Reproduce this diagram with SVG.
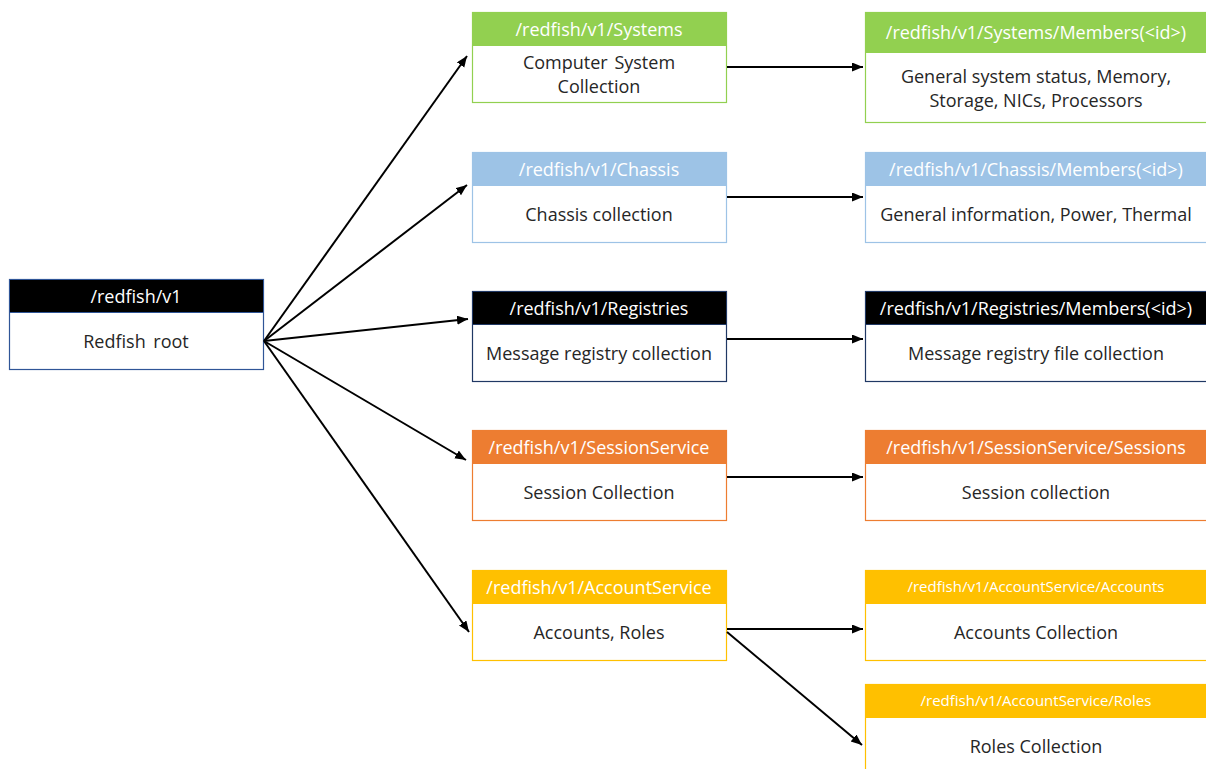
<svg xmlns="http://www.w3.org/2000/svg" width="1206" height="769" viewBox="0 0 1206 769">
<style>
text{font-family:"Open Sans","Noto Sans","Liberation Sans",sans-serif;font-size:18px;text-anchor:middle}
.h{fill:#ffffff}
.b{fill:#262626}
.sm{font-size:15px}
.body{fill:#ffffff;stroke-width:1.2}
.conn line{stroke:#000;stroke-width:2;fill:none}
</style>
<defs>
<marker id="arr" markerUnits="userSpaceOnUse" markerWidth="12" markerHeight="10" refX="11" refY="4.5" orient="auto">
<path d="M0,0 L11,4.5 L0,9 z" fill="#000"/>
</marker>
</defs>
<rect width="1206" height="769" fill="#ffffff"/>

<g id="root">
<rect class="body" x="9.5" y="279.5" width="254" height="90" stroke="#2F5597"/>
<rect x="9.5" y="279.5" width="254" height="33" fill="#000000" stroke="#2F5597"/>
<text class="h" x="136" y="302.5">/redfish/v1</text>
<text class="b" x="136" y="347.5" word-spacing="3">Redfish root</text>
</g>

<g id="systems">
<rect class="body" x="472.5" y="12.5" width="254" height="90" stroke="#92D050"/>
<rect x="472.5" y="12.5" width="254" height="33" fill="#92D050" stroke="#92D050"/>
<text class="h" x="599" y="35.5">/redfish/v1/Systems</text>
<text class="b" x="599" y="68.5" word-spacing="2">Computer System</text>
<text class="b" x="599" y="92.5">Collection</text>
</g>

<g id="chassis">
<rect class="body" x="472.5" y="152.5" width="254" height="90" stroke="#9DC3E6"/>
<rect x="472.5" y="152.5" width="254" height="33" fill="#9DC3E6" stroke="#9DC3E6"/>
<text class="h" x="599" y="175.5">/redfish/v1/Chassis</text>
<text class="b" x="599" y="220.5">Chassis collection</text>
</g>

<g id="registries">
<rect class="body" x="472.5" y="291.5" width="254" height="90" stroke="#203864"/>
<rect x="472.5" y="291.5" width="254" height="33" fill="#000000" stroke="#203864"/>
<text class="h" x="599" y="314.5">/redfish/v1/Registries</text>
<text class="b" x="599" y="359.5">Message registry collection</text>
</g>

<g id="session">
<rect class="body" x="472.5" y="430.5" width="254" height="90" stroke="#ED7D31"/>
<rect x="472.5" y="430.5" width="254" height="33" fill="#ED7D31" stroke="#ED7D31"/>
<text class="h" x="599" y="453.5">/redfish/v1/SessionService</text>
<text class="b" x="599" y="498.5">Session Collection</text>
</g>

<g id="account">
<rect class="body" x="472.5" y="570.5" width="254" height="90" stroke="#FFC000"/>
<rect x="472.5" y="570.5" width="254" height="33" fill="#FFC000" stroke="#FFC000"/>
<text class="h" x="599" y="593.5">/redfish/v1/AccountService</text>
<text class="b" x="599" y="638.5">Accounts, Roles</text>
</g>

<g id="systems-members">
<rect class="body" x="865.5" y="12.5" width="350" height="110" stroke="#92D050"/>
<rect x="865.5" y="12.5" width="350" height="40" fill="#92D050" stroke="#92D050"/>
<text class="h" x="1036" y="38.5">/redfish/v1/Systems/Members(&lt;id&gt;)</text>
<text class="b" x="1036" y="82.5">General system status, Memory,</text>
<text class="b" x="1036" y="106.5">Storage, NICs, Processors</text>
</g>

<g id="chassis-members">
<rect class="body" x="865.5" y="152.5" width="350" height="90" stroke="#9DC3E6"/>
<rect x="865.5" y="152.5" width="350" height="33" fill="#9DC3E6" stroke="#9DC3E6"/>
<text class="h" x="1036" y="175.5">/redfish/v1/Chassis/Members(&lt;id&gt;)</text>
<text class="b" x="1036" y="220.5">General information, Power, Thermal</text>
</g>

<g id="registries-members">
<rect class="body" x="865.5" y="291.5" width="350" height="90" stroke="#203864"/>
<rect x="865.5" y="291.5" width="350" height="33" fill="#000000" stroke="#203864"/>
<text class="h" x="1036" y="314.5">/redfish/v1/Registries/Members(&lt;id&gt;)</text>
<text class="b" x="1036" y="359.5">Message registry file collection</text>
</g>

<g id="sessions">
<rect class="body" x="865.5" y="430.5" width="350" height="90" stroke="#ED7D31"/>
<rect x="865.5" y="430.5" width="350" height="33" fill="#ED7D31" stroke="#ED7D31"/>
<text class="h" x="1036" y="453.5">/redfish/v1/SessionService/Sessions</text>
<text class="b" x="1036" y="498.5">Session collection</text>
</g>

<g id="accounts">
<rect class="body" x="865.5" y="570.5" width="350" height="90" stroke="#FFC000"/>
<rect x="865.5" y="570.5" width="350" height="33" fill="#FFC000" stroke="#FFC000"/>
<text class="h sm" x="1036" y="591.5">/redfish/v1/AccountService/Accounts</text>
<text class="b" x="1036" y="638.5">Accounts Collection</text>
</g>

<g id="roles">
<rect class="body" x="865.5" y="684.5" width="350" height="100" stroke="#FFC000"/>
<rect x="865.5" y="684.5" width="350" height="33" fill="#FFC000" stroke="#FFC000"/>
<text class="h sm" x="1036" y="705.5">/redfish/v1/AccountService/Roles</text>
<text class="b" x="1036" y="752.5">Roles Collection</text>
</g>

<g id="connectors" class="conn">
<line x1="264" y1="341" x2="467" y2="56" marker-end="url(#arr)"/>
<line x1="264" y1="341" x2="467" y2="185" marker-end="url(#arr)"/>
<line x1="264" y1="341" x2="468" y2="319" marker-end="url(#arr)"/>
<line x1="264" y1="341" x2="466" y2="460" marker-end="url(#arr)"/>
<line x1="264" y1="341" x2="469" y2="632" marker-end="url(#arr)"/>
<line x1="727" y1="67" x2="863" y2="67" marker-end="url(#arr)"/>
<line x1="727" y1="197" x2="863" y2="197" marker-end="url(#arr)"/>
<line x1="727" y1="339" x2="863" y2="339" marker-end="url(#arr)"/>
<line x1="727" y1="477" x2="863" y2="477" marker-end="url(#arr)"/>
<line x1="727" y1="629" x2="863" y2="629" marker-end="url(#arr)"/>
<line x1="727" y1="632" x2="862" y2="745" marker-end="url(#arr)"/>
</g>
</svg>
